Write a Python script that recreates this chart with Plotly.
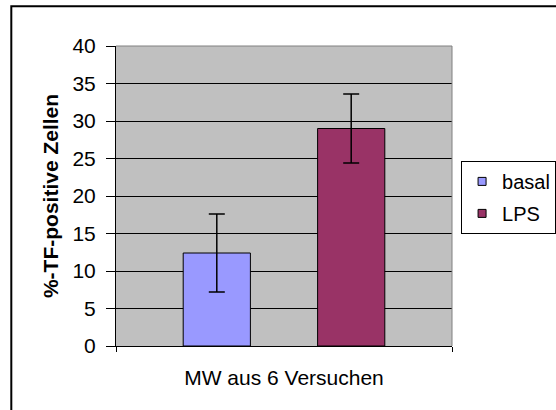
import plotly.graph_objects as go

# Data
series_names = ["basal", "LPS"]
series_means = [12.4, 29.0]
series_errors = [5.2, 4.6]
series_colors = ["#9999FF", "#993366"]
bar_positions = [1.5, 3.5]
x_label = "MW aus 6 Versuchen"
y_label = "%-TF-positive Zellen"

FONT = "Liberation Sans, Arial, sans-serif"

fig = go.Figure()
for i, name in enumerate(series_names):
    fig.add_trace(go.Bar(
        x=[bar_positions[i]], y=[series_means[i]], width=1.0,
        marker=dict(color=series_colors[i], line=dict(color="black", width=1)),
        error_y=dict(type="data", array=[series_errors[i]], color="black",
                     thickness=1.5, width=8),
        showlegend=False, name=name,
    ))
    # legend entry with small square marker
    fig.add_trace(go.Scatter(
        x=[None], y=[None], mode="markers", name=name,
        legendgroup=name,
        marker=dict(symbol="square", size=8, color=series_colors[i],
                    line=dict(color="black", width=1)),
    ))

fig.update_layout(
    width=556, height=410,
    margin=dict(l=116, r=104, t=46, b=64, autoexpand=False),
    paper_bgcolor="white",
    plot_bgcolor="#C0C0C0",
    barmode="overlay",
    font=dict(family=FONT, size=21, color="black"),
    showlegend=True,
    legend=dict(
        x=1.027, y=0.617, xanchor="left", yanchor="top",
        bordercolor="black", borderwidth=1, bgcolor="white",
        font=dict(family=FONT, size=20, color="black"),
        tracegroupgap=3, itemwidth=30,
    ),
    xaxis=dict(
        range=[0, 5], tickvals=[0, 5], showticklabels=False,
        ticks="outside", ticklen=5, tickcolor="black", tickwidth=1,
        showline=True, linecolor="black", linewidth=1,
        showgrid=False, zeroline=False, fixedrange=True,
        title=dict(text=x_label, standoff=19,
                   font=dict(family=FONT, size=21, color="black")),
    ),
    yaxis=dict(
        range=[0, 40], dtick=5, tick0=0,
        ticks="outside", ticklen=9, tickcolor="black", tickwidth=1,
        ticklabelstandoff=6,
        showline=True, linecolor="black", linewidth=1,
        showgrid=True, gridcolor="black", gridwidth=1,
        zeroline=False, fixedrange=True,
        tickfont=dict(family=FONT, size=21, color="black"),
        title=dict(text="<b>" + y_label + "</b>", standoff=8,
                   font=dict(family=FONT, size=21, color="black")),
    ),
    shapes=[
        # outer chart border
        dict(type="rect", xref="paper", yref="paper",
             x0=-0.3116, x1=1.6, y0=-0.4, y1=1.1327,
             line=dict(color="black", width=2), layer="above"),
        # plot area top and right border (gray)
        dict(type="line", xref="paper", yref="paper", x0=0, x1=1, y0=1, y1=1,
             line=dict(color="#808080", width=1), layer="above"),
        dict(type="line", xref="paper", yref="paper", x0=1, x1=1, y0=0, y1=1,
             line=dict(color="#808080", width=1), layer="above"),
    ],
)

fig.write_html("out.html",
               config={"displayModeBar": False, "staticPlot": True},
               post_script="document.body.style.margin='0';document.body.style.overflow='hidden';")
